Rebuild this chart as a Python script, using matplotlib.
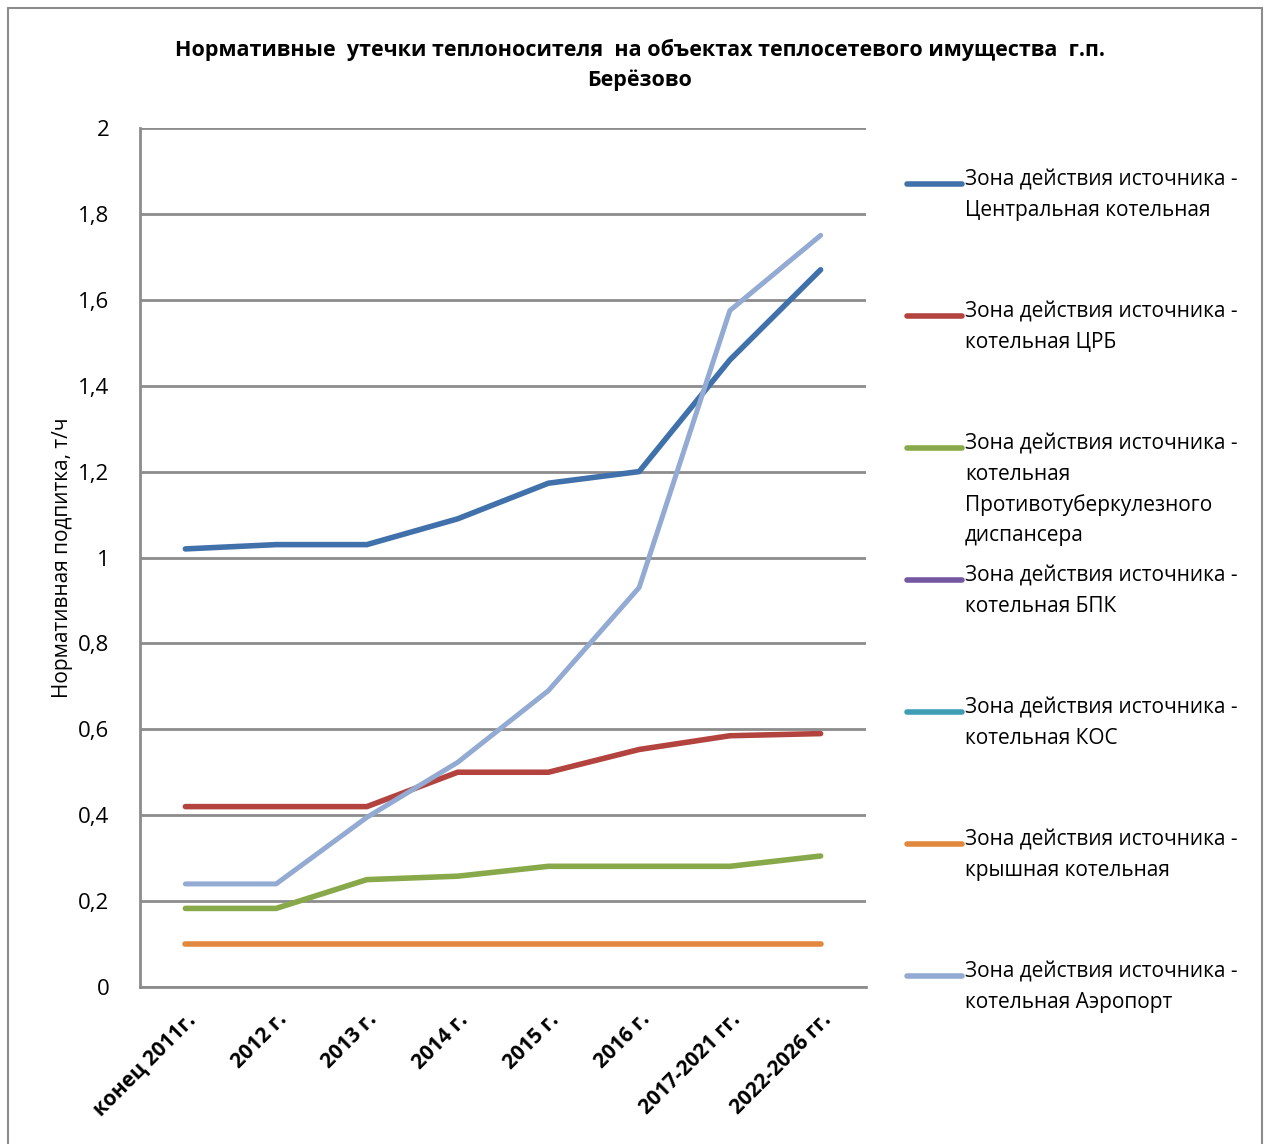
import numpy as np
import matplotlib.pyplot as plt
from matplotlib.lines import Line2D
from matplotlib.patches import Rectangle

plt.rcParams['font.family'] = ['Open Sans', 'DejaVu Sans']

# ─────────────────────────────────────────────
#  Данные
# ─────────────────────────────────────────────
periods = ['конец 2011г.', '2012 г.', '2013 г.', '2014 г.', '2015 г.',
           '2016 г.', '2017-2021 гг.', '2022-2026 гг.']

central   = [1.02, 1.03, 1.03, 1.09, 1.173, 1.20, 1.46, 1.67]
crb       = [0.42, 0.42, 0.42, 0.50, 0.50, 0.553, 0.585, 0.59]
ptd       = [0.183, 0.183, 0.25, 0.258, 0.281, 0.281, 0.281, 0.305]
bpk       = [np.nan] * 8
kos       = [np.nan] * 8
roof      = [0.10, 0.10, 0.10, 0.10, 0.10, 0.10, 0.10, 0.10]
airport   = [0.24, 0.24, 0.395, 0.523, 0.69, 0.93, 1.575, 1.75]

y_ticks = [0, 0.2, 0.4, 0.6, 0.8, 1.0, 1.2, 1.4, 1.6, 1.8, 2.0]
y_ticklabels = ['0', '0,2', '0,4', '0,6', '0,8', '1', '1,2', '1,4', '1,6', '1,8', '2']

labels = [
    'Зона действия источника -\nЦентральная котельная',
    'Зона действия источника -\nкотельная ЦРБ',
    'Зона действия источника -\nкотельная\nПротивотуберкулезного\nдиспансера',
    'Зона действия источника -\nкотельная БПК',
    'Зона действия источника -\nкотельная КОС',
    'Зона действия источника -\nкрышная котельная',
    'Зона действия источника -\nкотельная Аэропорт',
]
series = [central, crb, ptd, bpk, kos, roof, airport]
colors = ['#4171AB', '#B3433F', '#88A94A', '#7357A0', '#3E9DB5', '#E2883E', '#93AAD3']

# ─────────────────────────────────────────────
#  Рисунок
# ─────────────────────────────────────────────
W, H = 1268, 1144
fig = plt.figure(figsize=(W / 100, H / 100), dpi=100)
ax = fig.add_axes([140 / W, 1 - 987 / H, 726 / W, 859 / H])

x = np.arange(len(periods))
for i, (vals, col) in enumerate(zip(series, colors)):
    ax.plot(x, vals, color=col, lw=4.0 if i != 6 else 3.6,
            solid_capstyle='round', solid_joinstyle='round', zorder=3)

ax.set_xlim(-0.5, len(periods) - 0.5)
ax.set_ylim(0, 2)
ax.set_yticks(y_ticks)
ax.set_yticklabels(y_ticklabels)
ax.set_xticks(x)
ax.set_xticklabels(periods, rotation=45, ha='right', rotation_mode='anchor',
                   fontsize=15, fontweight='bold')
ax.tick_params(axis='y', labelsize=16, length=0, pad=22)
ax.tick_params(axis='x', length=0, pad=16)

ax.yaxis.grid(True, color='#8C8C8C', lw=2, zorder=1)
ax.set_axisbelow(True)
for s in ['top', 'right']:
    ax.spines[s].set_visible(False)
for s in ['left', 'bottom']:
    ax.spines[s].set_color('#8C8C8C')
    ax.spines[s].set_linewidth(2)

ax.set_ylabel('Нормативная подпитка, т/ч', fontsize=15, labelpad=4)

fig.text(640 / W, 1 - 50 / H,
         'Нормативные  утечки теплоносителя  на объектах теплосетевого имущества  г.п.',
         ha='center', va='center', fontsize=15.5, fontweight='bold')
fig.text(640 / W, 1 - 80 / H, 'Берёзово',
         ha='center', va='center', fontsize=15.5, fontweight='bold')

# легенда справа (вручную, равный шаг между записями)
for i, (lab, col) in enumerate(zip(labels, colors)):
    yp = 184 + 132 * i
    fig.add_artist(Line2D([907 / W, 962 / W], [1 - yp / H, 1 - yp / H],
                          color=col, lw=4.0, solid_capstyle='round'))
    fig.text(965 / W, 1 - (yp - 14) / H, lab, ha='left', va='top',
             fontsize=15, linespacing=1.55)

# рамка вокруг диаграммы
fig.add_artist(Rectangle((8 / W, -0.01), 1254 / W, 1 - 8 / H + 0.01,
                         transform=fig.transFigure, fill=False,
                         edgecolor='#8C8C8C', lw=1.5))

plt.savefig('out.png', dpi=100)
plt.close()
